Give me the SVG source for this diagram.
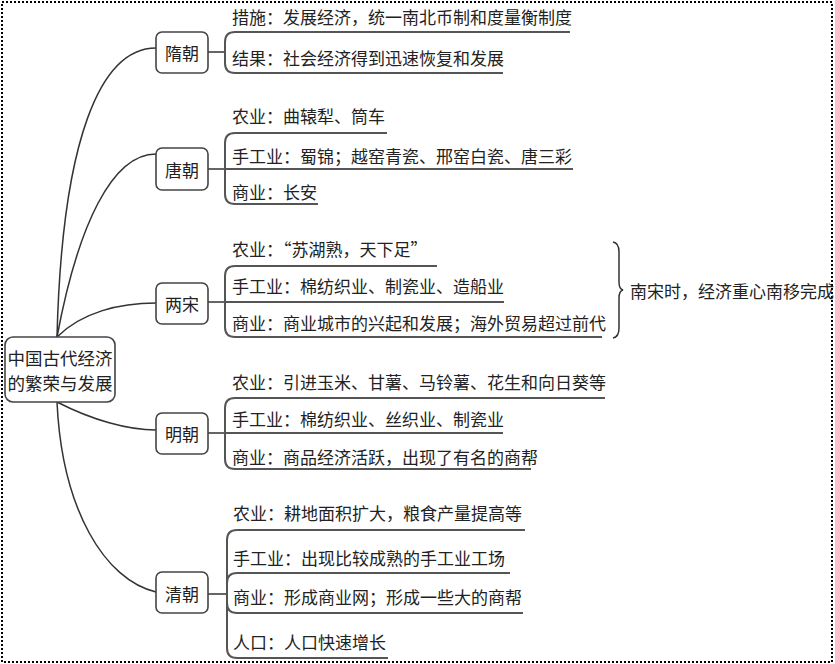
<svg xmlns="http://www.w3.org/2000/svg" width="835" height="664" viewBox="0 0 835 664">
<style>
.t{font-family:"Noto Sans CJK SC","Noto Sans",sans-serif;font-size:17px;fill:#222;dominant-baseline:central}
.c{text-anchor:middle}
.box{fill:#fff;stroke:#444;stroke-width:1.6}
.ln{fill:none;stroke:#333;stroke-width:1.5}
.ul{fill:none;stroke:#555;stroke-width:2}
</style>
<rect x="2" y="2" width="830" height="660" fill="#fff" stroke="#000" stroke-width="2" stroke-dasharray="2 2"/>
<g id="connectors">
<path class="ln" d="M57,337 C62,140 100,48 156,48"/>
<path class="ln" d="M57,337 C78,225 112,154 156,154"/>
<path class="ln" d="M57,337 C82,312 120,303 156,303"/>
<path class="ln" d="M57,402 C92,420 128,430 156,430"/>
<path class="ln" d="M57,402 C62,510 105,580 156,592"/>
<path class="ln" d="M208,52 H225"/>
<path class="ln" d="M208,169 H225"/>
<path class="ln" d="M208,302 H225"/>
<path class="ln" d="M208,433 H225"/>
<path class="ln" d="M208,594 H227"/>
</g>
<g id="root">
<rect class="box" x="5" y="337" width="110" height="65" rx="8"/>
<text class="t c" x="60" y="357" style="font-size:17.5px">中国古代经济</text>
<text class="t c" x="60" y="382" style="font-size:17.5px">的繁荣与发展</text>
</g>
<g id="sui">
<rect class="box" x="156" y="32" width="52" height="41" rx="6"/>
<text class="t c" x="182" y="52">隋朝</text>
<path class="ul" d="M570,32 H235 Q225,32 225,42 V63 Q225,73 235,73 H503"/>
<text class="t" x="232" y="16">措施：发展经济，统一南北币制和度量衡制度</text>
<text class="t" x="232" y="57">结果：社会经济得到迅速恢复和发展</text>
</g>
<g id="tang">
<rect class="box" x="156" y="148" width="52" height="42" rx="6"/>
<text class="t c" x="182" y="169">唐朝</text>
<path class="ul" d="M387,133 H235 Q225,133 225,143 V194 Q225,204 235,204 H318"/>
<path class="ul" d="M225,169 H573"/>
<text class="t" x="232" y="115">农业：曲辕犁、筒车</text>
<text class="t" x="232" y="155">手工业：蜀锦；越窑青瓷、邢窑白瓷、唐三彩</text>
<text class="t" x="232" y="191">商业：长安</text>
</g>
<g id="song">
<rect class="box" x="156" y="283" width="52" height="41" rx="6"/>
<text class="t c" x="182" y="303">两宋</text>
<path class="ul" d="M437,266 H235 Q225,266 225,276 V327 Q225,337 235,337 H602"/>
<path class="ul" d="M225,302 H504"/>
<text class="t" x="232" y="248">农业：“苏湖熟，天下足”</text>
<text class="t" x="232" y="285">手工业：棉纺织业、制瓷业、造船业</text>
<text class="t" x="232" y="322">商业：商业城市的兴起和发展；海外贸易超过前代</text>
<path class="ln" d="M613,242 Q619,243 619,252 V282 Q619,289 623,290 Q619,291 619,298 V328 Q619,337 613,338"/>
<text class="t" x="630" y="290">南宋时，经济重心南移完成</text>
</g>
<g id="ming">
<rect class="box" x="156" y="413" width="52" height="41" rx="6"/>
<text class="t c" x="182" y="433">明朝</text>
<path class="ul" d="M605,398 H235 Q225,398 225,408 V459 Q225,469 235,469 H531"/>
<path class="ul" d="M225,433 H503"/>
<text class="t" x="232" y="381">农业：引进玉米、甘薯、马铃薯、花生和向日葵等</text>
<text class="t" x="232" y="418">手工业：棉纺织业、丝织业、制瓷业</text>
<text class="t" x="232" y="456">商业：商品经济活跃，出现了有名的商帮</text>
</g>
<g id="qing">
<rect class="box" x="156" y="572" width="52" height="41" rx="6"/>
<text class="t c" x="182" y="593">清朝</text>
<path class="ul" d="M525,530 H237 Q227,530 227,540 V648 Q227,658 237,658 H388"/>
<path class="ul" d="M510,573 H237 Q227,573 227,583 V603 Q227,613 237,613 H523"/>
<text class="t" x="233" y="512">农业：耕地面积扩大，粮食产量提高等</text>
<text class="t" x="233" y="557">手工业：出现比较成熟的手工业工场</text>
<text class="t" x="233" y="596">商业：形成商业网；形成一些大的商帮</text>
<text class="t" x="233" y="641">人口：人口快速增长</text>
</g>
</svg>
